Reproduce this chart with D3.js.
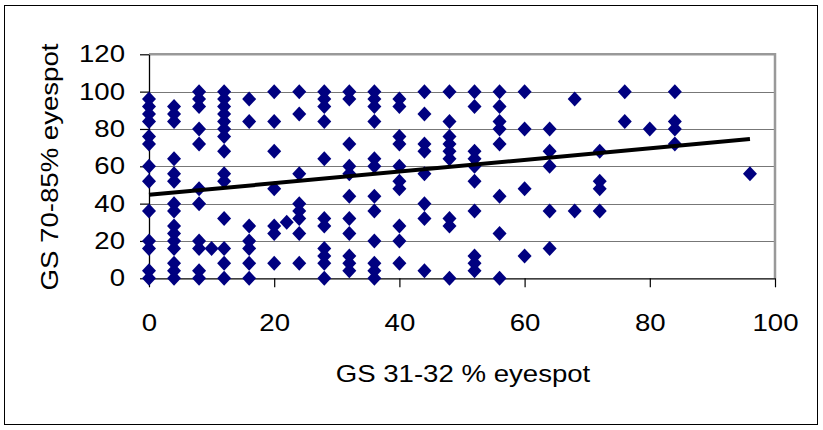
<!DOCTYPE html>
<html>
<head>
<meta charset="utf-8">
<script src="https://cdn.jsdelivr.net/npm/d3@7"></script>
<style>
  html, body { margin: 0; padding: 0; background: #fff; }
  svg { display: block; }
  text { font-family: "Liberation Sans", Arial, sans-serif; fill: #000; }
</style>
</head>
<body>
<svg id="chart" width="823" height="430"></svg>
<script>
// Eyespot scores: GS 31-32 (x) against GS 70-85 (y), one entry per plot
const gsEarly = [
  0, 0, 0, 0, 0, 0, 0, 0, 0, 0, 0, 0, 0,
  4, 4, 4, 4, 4, 4, 4, 4, 4, 4, 4, 4, 4, 4, 4,
  8, 8, 8, 8, 8, 8, 8, 8, 8, 8, 8,
  10,
  12, 12, 12, 12, 12, 12, 12, 12, 12, 12, 12, 12, 12, 12,
  16, 16, 16, 16, 16, 16, 16,
  20, 20, 20, 20, 20, 20, 20,
  22,
  24, 24, 24, 24, 24, 24, 24, 24,
  28, 28, 28, 28, 28, 28, 28, 28, 28, 28, 28,
  32, 32, 32, 32, 32, 32, 32, 32, 32, 32, 32,
  36, 36, 36, 36, 36, 36, 36, 36, 36, 36, 36, 36,
  40, 40, 40, 40, 40, 40, 40, 40, 40, 40,
  44, 44, 44, 44, 44, 44, 44, 44,
  48, 48, 48, 48, 48, 48, 48, 48, 48,
  52, 52, 52, 52, 52, 52, 52, 52, 52, 52,
  56, 56, 56, 56, 56, 56, 56, 56,
  60, 60, 60, 60,
  64, 64, 64, 64, 64,
  68, 68,
  72, 72, 72, 72,
  76, 76,
  80,
  84, 84, 84, 84,
  96
];
const gsLate = [
  96, 92, 88, 84, 76, 72, 60, 52, 36, 20, 16, 4, 0,
  92, 88, 84, 64, 56, 52, 40, 36, 28, 24, 20, 16, 8, 4, 0,
  100, 96, 92, 80, 72, 48, 40, 20, 16, 4, 0,
  16,
  100, 96, 92, 88, 84, 80, 76, 68, 56, 52, 32, 16, 8, 0,
  96, 84, 28, 20, 16, 8, 0,
  100, 84, 68, 48, 28, 24, 8,
  30,
  100, 88, 56, 40, 36, 32, 24, 8,
  100, 96, 92, 84, 64, 32, 28, 16, 12, 8, 0,
  100, 96, 72, 60, 56, 44, 32, 24, 12, 8, 4,
  100, 96, 92, 84, 64, 60, 44, 36, 20, 8, 4, 0,
  96, 92, 76, 72, 60, 52, 48, 28, 20, 8,
  100, 88, 72, 68, 56, 40, 32, 4,
  100, 84, 76, 72, 68, 64, 32, 28, 0,
  100, 92, 68, 64, 60, 52, 36, 12, 8, 4,
  100, 92, 84, 80, 72, 44, 24, 0,
  100, 80, 48, 12,
  80, 68, 60, 36, 16,
  96, 36,
  68, 52, 48, 36,
  100, 84,
  80,
  100, 84, 80, 72,
  56
];
// Linear trend line end points
const trendX = [0, 96];
const trendY = [44.7, 74.6];

const xTicks = [0, 20, 40, 60, 80, 100];
const yTicks = [0, 20, 40, 60, 80, 100, 120];
const xTitle = "GS 31-32 % eyespot";
const yTitle = "GS 70-85% eyespot";

const svg = d3.select("#chart");
const stretch = 1.2;

// outer chart frame
svg.append("rect")
  .attr("x", 4.5).attr("y", 5.5).attr("width", 813).attr("height", 419)
  .attr("fill", "#fff").attr("stroke", "#000").attr("stroke-width", 1);

const x = d3.scaleLinear().domain([0, 100]).range([149, 775]);
const y = d3.scaleLinear().domain([0, 120]).range([278.3, 54.3]);

// horizontal gridlines
svg.append("g")
  .selectAll("line")
  .data(yTicks.filter(v => v > 0 && v < 120))
  .join("line")
  .attr("x1", x(0)).attr("x2", x(100))
  .attr("y1", d => Math.round(y(d)) + 0.5).attr("y2", d => Math.round(y(d)) + 0.5)
  .attr("stroke", "#777").attr("stroke-width", 1);

// plot area border (top and right)
svg.append("path")
  .attr("d", `M${x(0)},${y(120)}H${x(100)}V${y(0)}`)
  .attr("fill", "none").attr("stroke", "#999").attr("stroke-width", 2.5);

// axes
const yAxis = svg.append("g")
  .attr("transform", `translate(${x(0)},0)`)
  .call(d3.axisLeft(y).tickValues(yTicks).tickSize(9).tickPadding(11).tickSizeOuter(0));
const xAxis = svg.append("g")
  .attr("transform", `translate(0,${y(0)})`)
  .call(d3.axisBottom(x).tickValues(xTicks).tickSize(9).tickPadding(27).tickSizeOuter(0));

[yAxis, xAxis].forEach(g => {
  g.select(".domain").attr("stroke", "#000").attr("stroke-width", 1.3);
  g.selectAll(".tick line").attr("stroke", "#000").attr("stroke-width", 1.2);
  g.selectAll(".tick text")
    .attr("font-size", 23)
    .attr("font-family", "Liberation Sans, Arial, sans-serif")
    .attr("fill", "#000");
});
yAxis.selectAll(".tick text").attr("transform", `scale(${stretch},1)`);
xAxis.selectAll(".tick text").attr("transform", `scale(${stretch},1)`);

// data points as diamonds
const diamond = "M0,-7.5L7,0L0,7.5L-7,0Z";
svg.append("g")
  .selectAll("path")
  .data(d3.range(gsEarly.length))
  .join("path")
  .attr("d", diamond)
  .attr("transform", i => `translate(${x(gsEarly[i])},${y(gsLate[i])})`)
  .attr("fill", "#000080");

// trend line
svg.append("path")
  .datum(d3.zip(trendX, trendY))
  .attr("d", d3.line().x(d => x(d[0])).y(d => y(d[1])))
  .attr("fill", "none").attr("stroke", "#000").attr("stroke-width", 4);

// axis titles
svg.append("text")
  .attr("transform", `translate(463,382) scale(${stretch},1)`)
  .attr("text-anchor", "middle")
  .attr("font-size", 23)
  .text(xTitle);
svg.append("text")
  .attr("transform", `translate(58,167) rotate(-90) scale(${stretch},1)`)
  .attr("text-anchor", "middle")
  .attr("font-size", 23)
  .text(yTitle);
</script>
</body>
</html>
